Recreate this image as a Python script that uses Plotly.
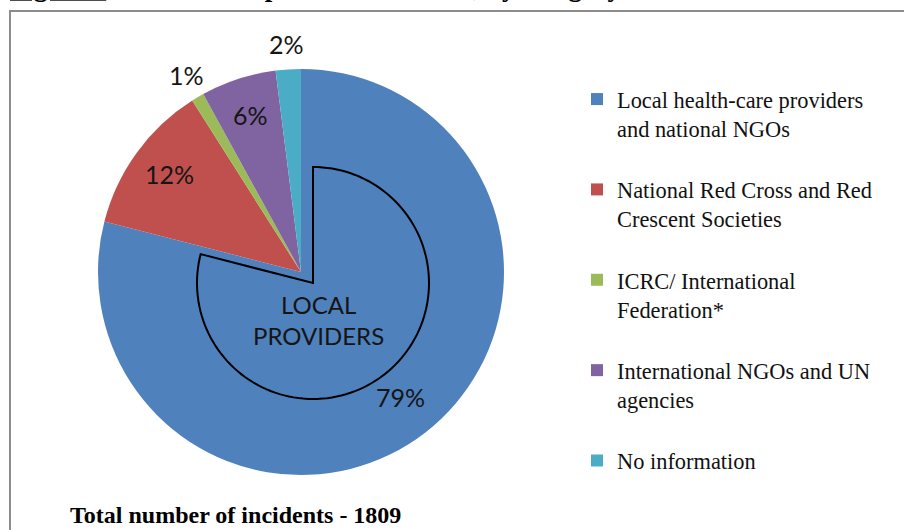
import math
import plotly.graph_objects as go

categories = [
    "Local health-care providers<br>and national NGOs",
    "National Red Cross and Red<br>Crescent Societies",
    "ICRC/ International<br>Federation*",
    "International NGOs and UN<br>agencies",
    "No information",
]
shares = [79, 12, 1, 6, 2]
colors = ["#4F81BD", "#C0504D", "#9BBB59", "#8064A2", "#4BACC6"]
label_inside = [True, True, False, True, False]
total_incidents = 1809

W, H = 904, 530
cx, cy, R = 301, 272, 203

fig = go.Figure()
fig.add_trace(go.Pie(
    labels=[c + "<br> " if i < len(categories) - 1 else c for i, c in enumerate(categories)],
    values=shares,
    sort=False,
    direction="clockwise",
    rotation=0,
    marker=dict(colors=colors, line=dict(width=0)),
    textinfo="none",
    domain=dict(x=[(cx - R) / W, (cx + R) / W], y=[(H - cy - R) / H, (H - cy + R) / H]),
    hoverinfo="label+percent",
))

# percentage labels placed along each slice's mid-angle (Excel style)
annotations = []
tot = sum(shares)
cum = 0.0
for v, inside in zip(shares, label_inside):
    mid = 2 * math.pi * (cum + v / 2) / tot
    cum += v
    d = R * (0.8 if inside else 1.11)
    px = cx + d * math.sin(mid)
    py = cy - d * math.cos(mid) - 3
    annotations.append(dict(
        text=f"{round(100 * v / tot)}%", x=px / W, y=(H - py) / H, xref="paper", yref="paper",
        xanchor="center", yanchor="middle", showarrow=False,
        font=dict(family="Lato", size=25, color="#151515")))

# outline of the local-providers slice (offset copy), computed from the data
frac = shares[0] / tot
dx, dy, r2 = 12, -11, 116
pts = [(dx, dy), (dx, dy + r2)]
n = 120
for k in range(1, n + 1):
    t = 2 * math.pi * frac * k / n
    pts.append((dx + r2 * math.sin(t), dy + r2 * math.cos(t)))
path = "M " + " L ".join(f"{x:.2f},{y:.2f}" for x, y in pts) + " Z"

annotations += [
    dict(text="LOCAL<br>PROVIDERS", x=318 / W, y=(H - 320) / H, xref="paper", yref="paper",
         showarrow=False, font=dict(family="Lato", size=24, color="#151515"), align="center"),
    dict(text=f"<b>Total number of incidents - {total_incidents}</b>", x=68 / W, y=(H - 515) / H,
         xref="paper", yref="paper", xanchor="left", yanchor="middle", showarrow=False,
         font=dict(family="Liberation Serif", size=24, color="black")),
    dict(text="<b><u>Figure 5</u>: Health-care providers affected, by category</b>", x=8 / W, y=(H - 4) / H,
         xref="paper", yref="paper", xanchor="left", yanchor="bottom", showarrow=False,
         font=dict(family="Liberation Serif", size=27, color="black")),
]

fig.update_layout(
    width=W, height=H,
    margin=dict(l=0, r=0, t=0, b=0),
    paper_bgcolor="white",
    plot_bgcolor="white",
    showlegend=True,
    legend=dict(
        x=577 / W, y=(H - 78) / H, xanchor="left", yanchor="top",
        font=dict(family="Liberation Serif", size=22.4, color="#111111"),
        valign="top",
        itemwidth=30,
        bgcolor="rgba(0,0,0,0)",
    ),
    shapes=[
        dict(type="path", path=path, xref="paper", yref="paper",
             xsizemode="pixel", ysizemode="pixel",
             xanchor=cx / W, yanchor=(H - cy) / H,
             line=dict(color="black", width=2), fillcolor="rgba(0,0,0,0)"),
        dict(type="rect", xref="paper", yref="paper",
             x0=10 / W, x1=1.05, y0=-0.05, y1=(H - 11) / H,
             line=dict(color="#8c8c8c", width=2), fillcolor="rgba(0,0,0,0)", layer="below"),
    ],
    annotations=annotations,
)

fig.write_html("out.html", config={"displayModeBar": False},
               post_script="document.body.style.margin='0';")
